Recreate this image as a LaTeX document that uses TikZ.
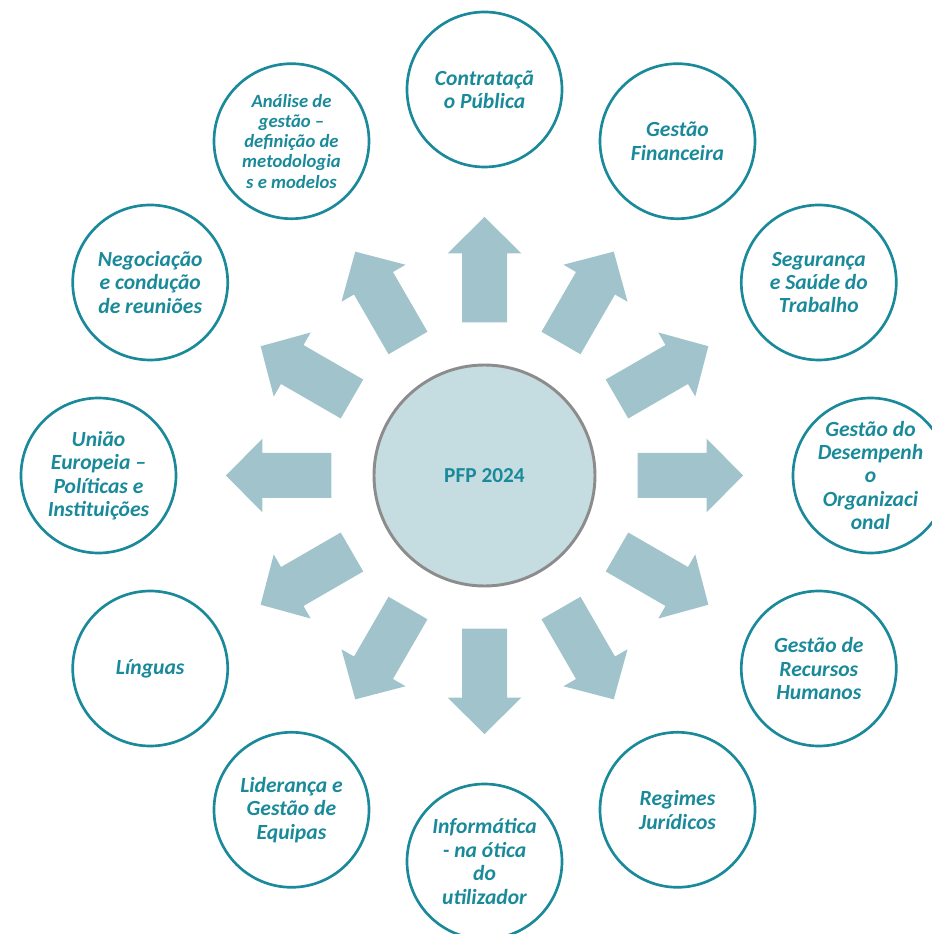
\documentclass[tikz,border=0pt]{standalone}
\usepackage{fontspec}
\setmainfont{Carlito}
\definecolor{tealc}{RGB}{26,138,154}
\definecolor{arrowc}{RGB}{161,196,204}
\definecolor{centerfill}{RGB}{197,220,225}
\definecolor{centerline}{RGB}{140,140,140}
\tikzset{
  outer/.style={circle, draw=tealc, line width=2pt, minimum size=116.25pt, inner sep=0pt,
    align=center, text=tealc, font=\fontsize{16.2}{17.6}\selectfont\bfseries\itshape},
  small/.style={font=\fontsize{14}{15.2}\selectfont\bfseries\itshape},
  hub/.style={circle, draw=centerline, fill=centerfill, line width=2.2pt, minimum size=165.75pt,
    inner sep=0pt, text=tealc, font=\fontsize{16}{19}\selectfont\bfseries},
  blockarrow/.style={fill=arrowc, draw=none}
}
\begin{document}
\begin{tikzpicture}[x=0.75pt,y=0.75pt]
\useasboundingbox (-484.5,-458.5) rectangle (446.5,475.5);
\foreach \a in {0,30,...,330}{
  \fill[blockarrow, rotate=\a] (153,-22.5) -- (222,-22.5) -- (222,-37) -- (258.5,0) -- (222,37) -- (222,22.5) -- (153,22.5) -- cycle;
}
\node[hub] (hub) at (0,0) {PFP 2024};
\node[outer] (n90) at (90:386) {Contrataçã\\o Pública};
\node[outer] (n60) at (60:386) {Gestão\\Financeira};
\node[outer] (n30) at (30:386) {Segurança\\e Saúde do\\Trabalho};
\node[outer] (n0) at (0:386) {Gestão do\\Desempenh\\o\\Organizaci\\onal};
\node[outer] (n330) at (-30:386) {Gestão de\\Recursos\\Humanos};
\node[outer] (n300) at (-60:386) {Regimes\\Jurídicos};
\node[outer] (n270) at (-90:386) {Informática\\- na ótica\\do\\utilizador};
\node[outer] (n240) at (-120:386) {Liderança e\\Gestão de\\Equipas};
\node[outer] (n210) at (-150:386) {Línguas};
\node[outer] (n180) at (180:386) {União\\Europeia –\\Políticas e\\Instituições};
\node[outer] (n150) at (150:386) {Negociação\\e condução\\de reuniões};
\node[outer, small] (n120) at (120:386) {Análise de\\gestão –\\definição de\\metodologia\\s e modelos};
\end{tikzpicture}
\end{document}
